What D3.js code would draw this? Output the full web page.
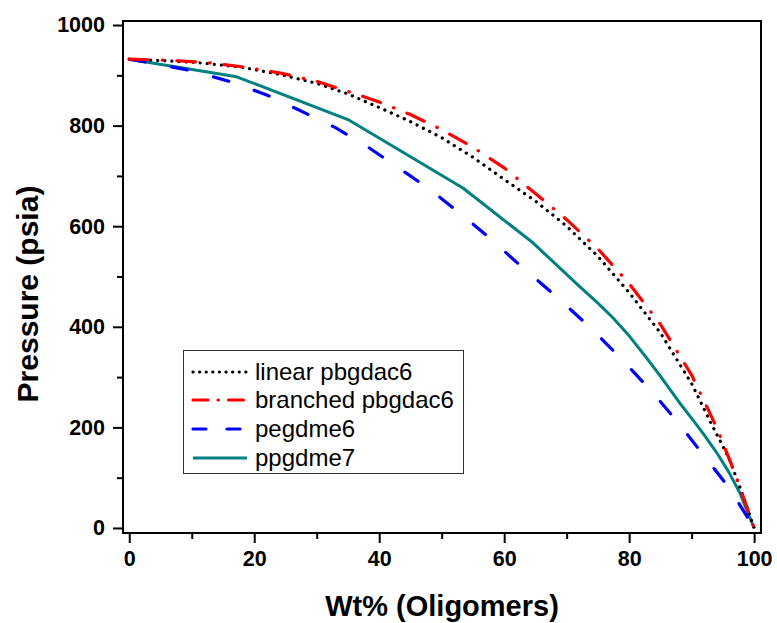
<!DOCTYPE html>
<html>
<head>
<meta charset="utf-8">
<script src="https://cdn.jsdelivr.net/npm/d3@7"></script>
<style>
body { margin: 0; background: #fff; }
text { font-family: "Liberation Sans", Arial, sans-serif; }
</style>
</head>
<body>
<script>
// data (wt% , psia)
var seriesNames = ["linear pbgdac6", "branched pbgdac6", "pegdme6", "ppgdme7"];

var linearX = [0, 6, 12, 18, 24, 30, 35, 40, 45, 50, 55, 60, 65, 70, 75, 80, 85, 90, 93, 96, 98, 100];
var linearY = [932, 929, 924, 916, 902, 884, 863, 836, 808, 776, 737, 693, 650, 600, 540, 468, 388, 287, 211, 138, 72, 0];

var branchedX = [0, 6, 12, 18, 24, 30, 35, 40, 45, 50, 55, 60, 65, 70, 75, 80, 85, 90, 94, 97, 100];
var branchedY = [932, 930, 926, 917, 905, 888, 868, 847, 822, 792, 757, 716, 665, 613, 555, 486, 405, 304, 200, 107, 0];

var pegX = [0, 5, 10, 16, 22, 27, 33, 38, 43, 48, 53, 58, 63, 68, 74, 79, 84, 88, 92, 96, 100];
var pegY = [932, 921, 909, 888, 861, 832, 796, 759, 717, 674, 625, 573, 517, 464, 396, 333, 266, 207, 143, 80, 0];

var ppgX = [0, 17.2, 35, 53.4, 64.6, 72, 75, 77.4, 80, 82.8, 85, 88, 90.5, 92, 94, 96, 97.7, 100];
var ppgY = [932, 897, 812, 676, 567, 481, 447, 418, 382, 338, 302, 250, 210, 185, 150, 110, 70, 0];

var xTicks = [0, 20, 40, 60, 80, 100];
var xMinor = [10, 30, 50, 70, 90];
var yTicks = [0, 200, 400, 600, 800, 1000];
var yMinor = [100, 300, 500, 700, 900];

var width = 777;
var height = 623;
var pLeft = 123, pRight = 761, pTop = 21, pBottom = 533;

var svg = d3.select("body")
	.append("svg")
	.attr("width", width)
	.attr("height", height);

var x = d3.scaleLinear().domain([-1, 101.1]).range([pLeft, pRight]);
var y = d3.scaleLinear().domain([-10, 1008]).range([pBottom, pTop]);

function zip(xs, ys) {
	return xs.map(function(v, i){ return [v, ys[i]]; });
}

var series = [
	{ name: seriesNames[0], pts: zip(linearX, linearY), color: "#000000", dash: "0.1 7", legDash: "0.1 6.5", width: 3.2 },
	{ name: seriesNames[1], pts: zip(branchedX, branchedY), color: "#ff0000", dash: "19 14 0.5 14", legDash: "15 10 0.5 10", width: 3.2 },
	{ name: seriesNames[2], pts: zip(pegX, pegY), color: "#0000ff", dash: "16 27", legDash: "13 21", width: 3.2 },
	{ name: seriesNames[3], pts: zip(ppgX, ppgY), color: "#008080", dash: null, legDash: null, width: 3 }
];

var line = d3.line()
	.x(function(d){ return x(d[0]); })
	.y(function(d){ return y(d[1]); });

// draw the curves, bottom one first
[3, 2, 0, 1].forEach(function(i){
	var s = series[i];
	svg.append("path")
		.attr("d", line(s.pts))
		.attr("fill", "none")
		.attr("stroke", s.color)
		.attr("stroke-width", s.width)
		.attr("stroke-linecap", s.dash ? "round" : "butt")
		.attr("stroke-linejoin", "round")
		.attr("stroke-dasharray", s.dash);
});

// axes (ticks outside the frame)
var xAxis = svg.append("g")
	.attr("transform", "translate(0," + pBottom + ")")
	.call(d3.axisBottom(x).tickValues(xTicks).tickSize(10).tickPadding(8).tickFormat(d3.format("d")));
var xAxisMinor = svg.append("g")
	.attr("transform", "translate(0," + pBottom + ")")
	.call(d3.axisBottom(x).tickValues(xMinor).tickSize(6).tickFormat(""));
var yAxis = svg.append("g")
	.attr("transform", "translate(" + pLeft + ",0)")
	.call(d3.axisLeft(y).tickValues(yTicks).tickSize(10).tickPadding(8).tickFormat(d3.format("d")));
var yAxisMinor = svg.append("g")
	.attr("transform", "translate(" + pLeft + ",0)")
	.call(d3.axisLeft(y).tickValues(yMinor).tickSize(6).tickFormat(""));

[xAxis, xAxisMinor, yAxis, yAxisMinor].forEach(function(g){
	g.select(".domain").remove();
	g.selectAll(".tick line").attr("stroke", "#000").attr("stroke-width", 2);
	g.selectAll(".tick text")
		.attr("fill", "#000")
		.style("font-family", "'Liberation Sans', Arial, sans-serif")
		.style("font-size", "21.5px")
		.style("font-weight", "bold");
});

// frame
svg.append("rect")
	.attr("x", pLeft)
	.attr("y", pTop)
	.attr("width", pRight - pLeft)
	.attr("height", pBottom - pTop)
	.attr("fill", "none")
	.attr("stroke", "#000")
	.attr("stroke-width", 2);

// axis titles
svg.append("text")
	.attr("x", 442)
	.attr("y", 616)
	.attr("text-anchor", "middle")
	.style("font-size", "29px")
	.style("font-weight", "bold")
	.text("Wt% (Oligomers)");

svg.append("text")
	.attr("transform", "translate(38,294) rotate(-90)")
	.attr("text-anchor", "middle")
	.style("font-size", "30px")
	.style("font-weight", "bold")
	.text("Pressure (psia)");

// legend
var legend = svg.append("g");
legend.append("rect")
	.attr("x", 183.5)
	.attr("y", 350.5)
	.attr("width", 280)
	.attr("height", 123)
	.attr("fill", "#fff")
	.attr("stroke", "#333")
	.attr("stroke-width", 1);

var rowY = [372, 400, 429, 458];
series.forEach(function(s, i){
	legend.append("line")
		.attr("x1", 193)
		.attr("x2", 247)
		.attr("y1", rowY[i])
		.attr("y2", rowY[i])
		.attr("stroke", s.color)
		.attr("stroke-width", s.width)
		.attr("stroke-linecap", s.legDash ? "round" : "butt")
		.attr("stroke-dasharray", s.legDash);
	legend.append("text")
		.attr("x", 255)
		.attr("y", rowY[i] + 8)
		.style("font-size", "24px")
		.text(s.name);
});
</script>
</body>
</html>
